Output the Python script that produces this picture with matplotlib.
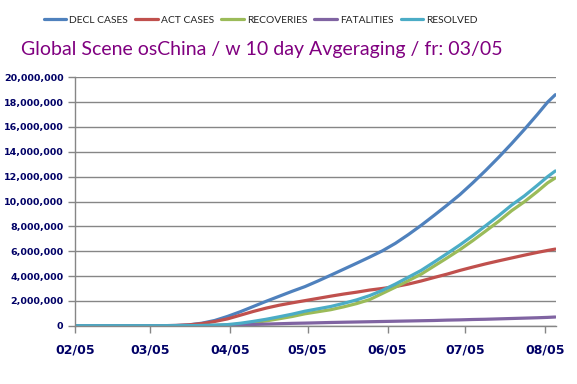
import matplotlib
matplotlib.use("Agg")
import matplotlib.pyplot as plt
import matplotlib.dates as mdates
import matplotlib.ticker as mticker
import numpy as np
from datetime import datetime

dates = ["2020-02-05", "2020-03-01", "2020-03-10", "2020-03-15", "2020-03-20", "2020-03-25",
         "2020-03-30", "2020-04-04", "2020-04-09", "2020-04-14", "2020-04-19", "2020-04-24",
         "2020-04-29", "2020-05-04", "2020-05-09", "2020-05-14", "2020-05-19", "2020-05-24",
         "2020-05-29", "2020-06-03", "2020-06-08", "2020-06-13", "2020-06-18", "2020-06-23",
         "2020-06-28", "2020-07-03", "2020-07-08", "2020-07-13", "2020-07-18", "2020-07-23",
         "2020-07-28", "2020-08-02", "2020-08-06", "2020-08-09"]

# values in millions
decl_cases = [0, 0, 0.003, 0.02, 0.07, 0.2, 0.42, 0.75, 1.13, 1.55, 1.97, 2.37, 2.77, 3.15,
              3.6, 4.07, 4.55, 5.03, 5.52, 6.03, 6.63, 7.33, 8.08, 8.88, 9.7, 10.55, 11.5,
              12.5, 13.55, 14.65, 15.8, 17.0, 18.0, 18.6]
act_cases = [0, 0, 0.003, 0.02, 0.065, 0.17, 0.34, 0.55, 0.85, 1.15, 1.42, 1.65, 1.84, 2.02,
             2.2, 2.38, 2.55, 2.7, 2.87, 3.0, 3.15, 3.35, 3.6, 3.88, 4.15, 4.45, 4.72, 4.98,
             5.22, 5.45, 5.68, 5.9, 6.06, 6.17]
recoveries = [0, 0, 0, 0.001, 0.004, 0.011, 0.025, 0.05, 0.13, 0.25, 0.39, 0.56, 0.74, 0.96,
              1.125, 1.29, 1.52, 1.78, 2.1, 2.6, 3.1, 3.62, 4.15, 4.8, 5.45, 6.12, 6.85, 7.62,
              8.4, 9.25, 9.98, 10.8, 11.5, 11.9]
fatalities = [0, 0, 0, 0.001, 0.003, 0.009, 0.02, 0.04, 0.07, 0.1, 0.13, 0.16, 0.19, 0.21,
              0.235, 0.26, 0.28, 0.3, 0.32, 0.34, 0.36, 0.38, 0.4, 0.42, 0.45, 0.47, 0.5, 0.52,
              0.55, 0.58, 0.61, 0.64, 0.67, 0.7]
resolved = [0, 0, 0, 0.002, 0.007, 0.02, 0.045, 0.09, 0.2, 0.35, 0.52, 0.72, 0.93, 1.17, 1.36,
            1.55, 1.8, 2.08, 2.42, 2.85, 3.35, 3.9, 4.45, 5.12, 5.8, 6.5, 7.25, 8.05, 8.85,
            9.7, 10.45, 11.3, 12.0, 12.46]

series_names = ["DECL CASES", "ACT CASES", "RECOVERIES", "FATALITIES", "RESOLVED"]
colors = ["#4F81BD", "#C0504D", "#9BBB59", "#8064A2", "#4BACC6"]
tick_dates = ["2020-02-05", "2020-03-05", "2020-04-05", "2020-05-05", "2020-06-05",
              "2020-07-05", "2020-08-05"]
title = "Global Scene osChina / w 10 day Avgeraging / fr: 03/05"

x = [datetime.strptime(d, "%Y-%m-%d") for d in dates]
ticks = [datetime.strptime(d, "%Y-%m-%d") for d in tick_dates]

fig = plt.figure(figsize=(5.77, 3.84), dpi=100)
ax = fig.add_axes([0.1305, 0.1518, 0.9636 - 0.1305, 0.7987 - 0.1518])

all_series = [decl_cases, act_cases, recoveries, fatalities, resolved]
handles = []
for name, vals, c in zip(series_names, all_series, colors):
    h, = ax.plot(x, np.array(vals) * 1e6, color=c, lw=2.3, label=name,
                 solid_capstyle="round", solid_joinstyle="round")
    handles.append(h)

ax.set_ylim(0, 20e6)
ax.set_yticks(np.arange(0, 20e6 + 1, 2e6))
ax.yaxis.set_major_formatter(mticker.FuncFormatter(lambda v, p: f"{int(v):,}"))
ax.set_xlim(datetime(2020, 2, 5), datetime(2020, 8, 9, 6))
ax.set_xticks(ticks)
ax.xaxis.set_major_formatter(mdates.DateFormatter("%m/%d"))

ax.grid(axis="y", color="#868686", lw=1.0)
ax.set_axisbelow(True)
for s in ["top", "right"]:
    ax.spines[s].set_visible(False)
for s in ["left", "bottom"]:
    ax.spines[s].set_color("#868686")
    ax.spines[s].set_linewidth(1.0)
ax.tick_params(axis="both", colors="#868686", length=5, width=1)
for lab in ax.get_yticklabels():
    lab.set_color("#000066")
    lab.set_fontweight("bold")
    lab.set_fontsize(6.8)
for lab in ax.get_xticklabels():
    lab.set_color("#000066")
    lab.set_fontweight("bold")
    lab.set_fontsize(9)
ax.tick_params(axis="x", pad=8)

fig.legend(handles=handles, labels=series_names, loc="center", bbox_to_anchor=(0.452, 0.947),
           ncol=5, frameon=False, prop={"family": "Lato", "size": 7.4}, handlelength=2.2,
           handletextpad=0.3, columnspacing=0.7, labelcolor="#222222")
fig.text(0.453, 0.872, title, ha="center", va="center", color="#800080", fontsize=14.0,
         family="Lato")

fig.savefig("out.png", dpi=100)
